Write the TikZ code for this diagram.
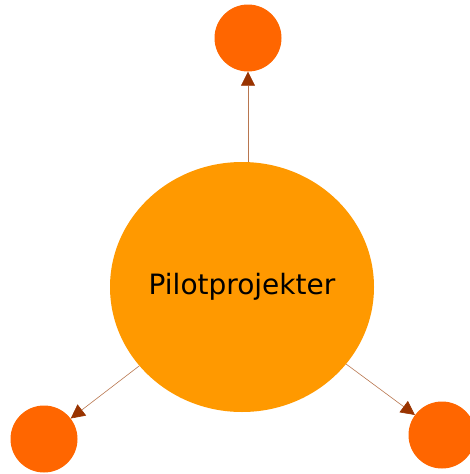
\documentclass[tikz,border=0pt]{standalone}
\usepackage{fontspec}
\setmainfont{DejaVu Sans}
\usetikzlibrary{arrows.meta,shapes.geometric}
\definecolor{bigorange}{HTML}{FF9900}
\definecolor{smallorange}{HTML}{FF6600}
\definecolor{arrowbrown}{HTML}{993300}
\definecolor{linebrown}{HTML}{B8764F}
\tikzset{
  bignode/.style={ellipse, fill=bigorange, minimum width=260pt, minimum height=250pt, inner sep=0pt, font=\fontsize{28}{32}\selectfont},
  smallnode/.style={circle, fill=smallorange, minimum size=67pt, inner sep=0pt},
  link/.style={draw=linebrown, line width=0.6pt, -{Triangle[length=14pt,width=14pt,color=arrowbrown]}}
}
\begin{document}
\begin{tikzpicture}[x=1pt,y=-1pt]
\useasboundingbox (0,0) rectangle (470,474);
\node[bignode] (c) at (242,287) {\raisebox{-2pt}{Pilotprojekter}};
\node[smallnode] (t) at (248,38) {};
\node[smallnode] (bl) at (44,439) {};
\node[smallnode] (br) at (442,435) {};
\draw[link] (t |- c.north) -- (t);
\draw[link] (c) -- (bl);
\draw[link] (c) -- (br);
\end{tikzpicture}
\end{document}
